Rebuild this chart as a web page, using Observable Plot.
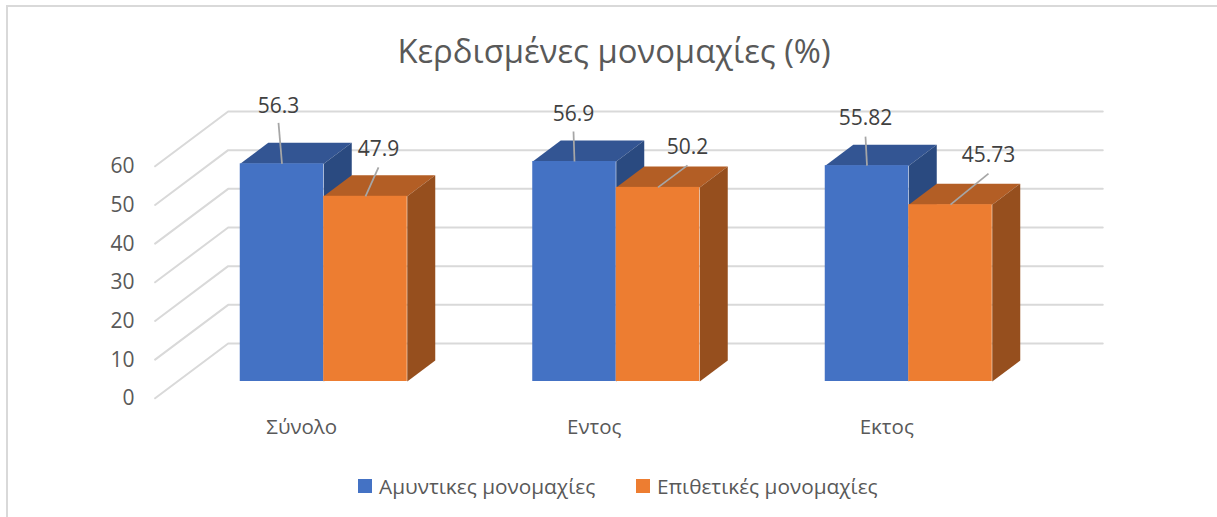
<!DOCTYPE html>
<html lang="el">
<head>
<meta charset="utf-8">
<script src="https://cdn.jsdelivr.net/npm/d3@7"></script>
<script src="https://cdn.jsdelivr.net/npm/@observablehq/plot@0.6"></script>
<style>
  html, body { margin: 0; padding: 0; background: #fff; overflow: hidden; }
  #frame { position: absolute; left: 6px; top: 5px; right: 0; bottom: 0; border-left: 2px solid #d9d9d9; border-top: 2px solid #d9d9d9; }
  #page { position: relative; width: 1217px; height: 517px; font-family: "Open Sans", sans-serif; }
  #title { position: absolute; left: 0; width: 1228px; top: 27px; text-align: center; font-size: 32.8px; color: #595959; line-height: 48px; }
  #chart { position: absolute; left: 0; top: 90px; }
  #legend { position: absolute; top: 472px; left: 358px; height: 28px; font-size: 20.8px; color: #595959; line-height: 28px; white-space: nowrap; }
  #legend span.sw { position: absolute; top: 7px; width: 14px; height: 14px; }
  #legend span.lb { position: absolute; top: 0; }
</style>
</head>
<body>
<div id="page">
  <div id="frame"></div>
  <div id="title"></div>
  <div id="chart"></div>
  <div id="legend"></div>
</div>
<script>
// ---- Data ----
const categories = ["Σύνολο", "Εντος", "Εκτος"];
const seriesNames = ["Αμυντικες μονομαχίες", "Επιθετικές μονομαχίες"];
const defensive = [56.3, 56.9, 55.82];
const offensive = [47.9, 50.2, 45.73];
const valueLabels = [["56.3", "56.9", "55.82"], ["47.9", "50.2", "45.73"]];
const yTicks = [0, 10, 20, 30, 40, 50, 60];
const titleText = "Κερδισμένες μονομαχίες (%)";

// ---- Style ----
const frontColors = ["#4472c4", "#ed7d31"];
const topColors = ["#335593", "#b35e25"];
const sideColors = ["#2a4a80", "#964f1e"];

// ---- Oblique 3D projection, expressed in scale units ----
const pxPerCat = 292.5, pxPerValue = 3.867;
const depthX = 28 / pxPerCat, depthY = 21 / pxPerValue;
const barW = 83.5 / pxPerCat;
const proj = (x, v, z) => ({x: x + z * depthX, y: v + z * depthY});

const rows = categories.flatMap((c, i) => [defensive[i], offensive[i]].map((v, s) => ({
  i, s, v, x1: i + (s - 1) * barW, x2: i + s * barW, label: valueLabels[s][i]
})));

// polygons for the depth faces
const faces = rows.flatMap(r => {
  const id = `${r.i}-${r.s}`;
  const poly = (name, fill, pts) => pts.map(p => ({id: id + name, fill, ...p}));
  return [
    ...poly("top", topColors[r.s], [proj(r.x1, r.v, 0), proj(r.x2, r.v, 0), proj(r.x2, r.v, 1), proj(r.x1, r.v, 1)]),
    ...poly("side", sideColors[r.s], [proj(r.x2, 0, 0), proj(r.x2, r.v, 0), proj(r.x2, r.v, 1), proj(r.x2, 0, 1)])
  ];
});

// gridlines: across the floor/side wall, then along the back wall
const xLeft = -0.5, xRight = 2.49, zFront = -0.8, zBack = 1.81;
const grid = yTicks.flatMap(t => [proj(xLeft, t, zFront), proj(xLeft, t, zBack), proj(xRight, t, zBack)].map(p => ({t, ...p})));

// leader offsets for data labels (pixels from bar top centre: end of line, label centre)
const leaders = [
  [[-3.5, -41, -3.5, -58], [13, -29, 13, -47]],
  [[-1, -30, -1, -47], [29.5, -22, 29.5, -40]],
  [[-1.5, -29, -1.5, -47], [38, -31, 38, -49]]
];
const labelRows = rows.map(r => {
  const cx = (r.x1 + r.x2) / 2;
  const [lx, ly, tx, ty] = leaders[r.i][r.s];
  return {
    label: r.label, cx, v: r.v,
    lineX: cx + lx / pxPerCat, lineY: r.v - ly / pxPerValue,
    textX: cx + tx / pxPerCat, textY: r.v - ty / pxPerValue
  };
});

const plot = Plot.plot({
  width: 1217,
  height: 355,
  marginLeft: 134,
  marginBottom: 64,
  marginTop: 0,
  marginRight: 0,
  style: {background: "transparent", fontFamily: "'Open Sans', sans-serif", overflow: "visible"},
  x: {domain: [-0.5, 2.5], range: [177, 1054.5], label: null},
  y: {domain: [0, 60], range: [291, 59], label: null},
  marks: [
    Plot.line(grid, {x: "x", y: "y", z: "t", stroke: "#d9d9d9", strokeWidth: 2}),
    Plot.line(faces, {x: "x", y: "y", z: "id", fill: {value: "fill", scale: null}, stroke: "none", curve: "linear-closed"}),
    Plot.rect(rows, {x1: "x1", x2: "x2", y1: 0, y2: "v", fill: {value: r => frontColors[r.s], scale: null}}),
    Plot.link(labelRows, {x1: "cx", y1: "v", x2: "lineX", y2: "lineY", stroke: "#a6a6a6", strokeWidth: 1.75}),
    Plot.text(labelRows, {x: "textX", y: "textY", text: "label", fontSize: 21, fill: "#404040"}),
    Plot.axisY({ticks: yTicks, tickSize: 0, tickPadding: 0, dy: 17, fontSize: 21, color: "#595959", label: null, tickFormat: d => String(d)}),
    Plot.axisX({ticks: [0, 1, 2], tickSize: 0, tickPadding: 38, dx: -22, fontSize: 20.5, color: "#595959", label: null, tickFormat: i => categories[i]})
  ]
});
document.getElementById("chart").append(plot);
document.getElementById("title").textContent = titleText;

const legend = document.getElementById("legend");
[[0, 21], [278, 299]].forEach(([sx, lx], s) => {
  const sw = document.createElement("span");
  sw.className = "sw"; sw.style.left = sx + "px"; sw.style.background = frontColors[s];
  const lb = document.createElement("span");
  lb.className = "lb"; lb.style.left = lx + "px"; lb.textContent = seriesNames[s];
  legend.append(sw, lb);
});
</script>
</body>
</html>
